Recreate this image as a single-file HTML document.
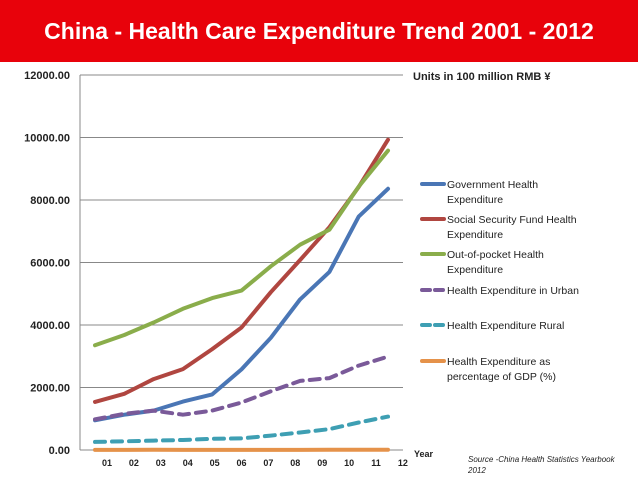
<!DOCTYPE html>
<html><head><meta charset="utf-8"><style>
body{margin:0;width:638px;height:479px;background:#fff;overflow:hidden;font-family:"Liberation Sans",sans-serif}
#title{position:absolute;left:0;top:0;width:638px;height:62px;background:#e8020b;color:#fff;font-weight:bold;font-size:23px;line-height:62px;text-align:center}
</style></head><body>
<div id="title">China - Health Care Expenditure Trend 2001 - 2012</div>
<svg id="c" width="638" height="479" style="position:absolute;left:0;top:0"></svg>
<script>
const years=["01","02","03","04","05","06","07","08","09","10","11","12"];
const yTicks=[0,2000,4000,6000,8000,10000,12000];
const gov=[950,1130,1260,1550,1780,2580,3590,4820,5700,7470,8360];
const social=[1540,1800,2270,2590,3230,3920,5050,6080,7130,8420,9930];
const oop=[3350,3680,4080,4520,4860,5100,5880,6570,7050,8430,9580];
const urban=[980,1160,1260,1130,1260,1520,1880,2210,2300,2700,2990];
const rural=[260,280,300,320,360,370,460,560,670,880,1070];
const gdp=[4.6,4.8,4.9,4.8,4.7,4.6,4.4,4.6,5.1,5.0,5.2];
const NS="http://www.w3.org/2000/svg";
const svg=document.getElementById('c');
function y(v){return 450-v/12000*375;}
function xp(i){return 95+i*29.3;}
function xl(i){return 107+i*26.9;}
function mk(t,a,p){const e=document.createElementNS(NS,t);for(const k in a)e.setAttribute(k,a[k]);(p||svg).appendChild(e);return e;}
yTicks.forEach(v=>{
 const l=mk('line',{x1:80,x2:403,y1:y(v),y2:y(v),stroke:'#888','stroke-width':1});
 
 
 const t=mk('text',{x:70,y:y(v)+4,'text-anchor':'end','font-size':11,'font-weight':'bold',fill:'#222'});
 t.textContent=v.toFixed(2);
 
 
});
mk('line',{x1:80,x2:80,y1:75,y2:450,stroke:'#888'});
years.forEach((s,i)=>{
 const t=mk('text',{x:xl(i),y:466,'text-anchor':'middle','font-size':9,'font-weight':'bold',fill:'#222'});
 t.textContent=s;
 
 
});
const series=[
 [gov,'#4a76b5',null,'government-line'],
 [social,'#b04640',null,'social-security-line'],
 [oop,'#8aad4b',null,'out-of-pocket-line'],
 [urban,'#7a5a99','10 7','urban-line'],
 [rural,'#3e9fb3','10 7','rural-line'],
 [gdp,'#e5924a',null,'gdp-percent-line']];
series.forEach(s=>{
 const d=s[0].map((v,i)=>(i?'L':'M')+xp(i).toFixed(1)+' '+y(v).toFixed(1)).join(' ');
 const a={d:d,fill:'none',stroke:s[1],'stroke-width':4,'stroke-linecap':'round','stroke-linejoin':'round'};
 if(s[2])a['stroke-dasharray']=s[2];
 const p=mk('path',a);
 
 
});
const leg=[["Government Health","Expenditure"],["Social Security Fund Health","Expenditure"],["Out-of-pocket Health","Expenditure"],["Health Expenditure in Urban"],["Health Expenditure Rural"],["Health Expenditure as","percentage of GDP (%)"]];
const ly=[184,219,254,290,325,361];
leg.forEach((L,i)=>{
 const s=series[i];
 const a={x1:422,x2:444,y1:ly[i],y2:ly[i],stroke:s[1],'stroke-width':4,'stroke-linecap':'round'};
 if(s[2])a['stroke-dasharray']='8 5';
 const ln=mk('line',a);
 
 
 L.forEach((txt,j)=>{
  const t=mk('text',{x:447,y:ly[i]+4+j*15,'font-size':10.5,fill:'#222'});
  t.textContent=txt;
  
  
 });
});
function txt(x,yy,s,a,n){const t=mk('text',Object.assign({x:x,y:yy},a));t.textContent=s;}
txt(413,80,'Units in 100 million RMB ¥',{'font-size':11,'font-weight':'bold',fill:'#222'},'units-label');
txt(414,457,'Year',{'font-size':9,'font-weight':'bold',fill:'#222'},'x-axis-title');
txt(468,462,'Source -China Health Statistics Yearbook',{'font-size':8,'font-style':'italic',fill:'#222'},'source-note');
txt(468,473,'2012',{'font-size':8,'font-style':'italic',fill:'#222'},'source-year');
</script>
</body></html>
